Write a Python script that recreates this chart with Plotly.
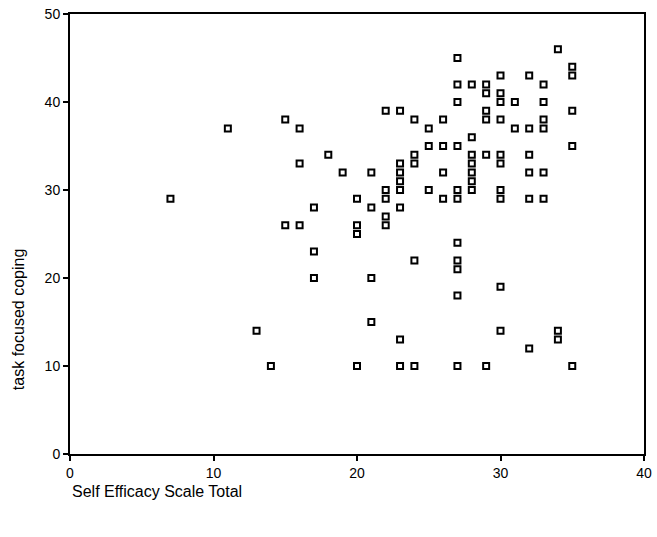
import plotly.graph_objects as go

# Self Efficacy Scale Total vs task focused coping
self_efficacy = [7, 11, 13, 14, 15, 15, 16, 16, 16, 17, 17, 17, 18, 19,
                 20, 20, 20, 20, 21, 21, 21, 21,
                 22, 22, 22, 22, 22,
                 23, 23, 23, 23, 23, 23, 23, 23,
                 24, 24, 24, 24, 24, 25, 25, 25, 26, 26, 26, 26,
                 27, 27, 27, 27, 27, 27, 27, 27, 27, 27, 27,
                 28, 28, 28, 28, 28, 28, 28,
                 29, 29, 29, 29, 29, 29,
                 30, 30, 30, 30, 30, 30, 30, 30, 30, 30,
                 31, 31, 32, 32, 32, 32, 32, 32,
                 33, 33, 33, 33, 33, 33, 34, 34, 34, 35, 35, 35, 35, 35]
task_coping = [29, 37, 14, 10, 38, 26, 37, 33, 26, 28, 23, 20, 34, 32,
               29, 26, 25, 10, 32, 28, 20, 15,
               39, 30, 29, 27, 26,
               39, 33, 32, 31, 30, 28, 13, 10,
               38, 34, 33, 22, 10, 37, 35, 30, 38, 35, 32, 29,
               45, 42, 40, 35, 30, 29, 24, 22, 21, 18, 10,
               42, 36, 34, 33, 32, 31, 30,
               42, 41, 39, 38, 34, 10,
               43, 41, 40, 38, 34, 33, 30, 29, 19, 14,
               40, 37, 43, 37, 34, 32, 29, 12,
               42, 40, 38, 37, 32, 29, 46, 14, 13, 44, 43, 39, 35, 10]

font_family = "Liberation Sans, Arial, sans-serif"

fig = go.Figure()
fig.add_trace(go.Scatter(x=self_efficacy, y=task_coping, mode='markers',
                         marker=dict(symbol='square-open', size=6, color='black',
                                     line=dict(color='black', width=2)),
                         showlegend=False))

axis_style = dict(showline=True, linecolor='black', linewidth=2, mirror=True,
                  ticks='outside', ticklen=5, tickwidth=1.5, tickcolor='black',
                  showgrid=False, zeroline=False, ticklabeloverflow='allow',
                  automargin=False,
                  tickfont=dict(family=font_family, size=14, color='black'))

fig.update_xaxes(range=[0, 40], tickvals=[0, 10, 20, 30, 40], **axis_style)
fig.update_yaxes(range=[0, 50], tickvals=[0, 10, 20, 30, 40, 50], **axis_style)

fig.add_annotation(text="Self Efficacy Scale Total", xref='paper', yref='paper',
                   x=0, y=-0.086, xanchor='left', yanchor='middle', showarrow=False,
                   font=dict(family=font_family, size=16, color='black'))
fig.add_annotation(text="task focused coping", xref='paper', yref='paper',
                   x=-0.09, y=0.305, xanchor='center', yanchor='middle', showarrow=False,
                   textangle=-90, font=dict(family=font_family, size=16, color='black'))

fig.update_layout(width=657, height=537, plot_bgcolor='white', paper_bgcolor='white',
                  margin=dict(l=70, r=13, t=14, b=83))

# drop the default 8px page margin so the figure fills the window exactly
fig.write_html("out.html", config={'displayModeBar': False},
               post_script="document.body.style.margin='0';")
